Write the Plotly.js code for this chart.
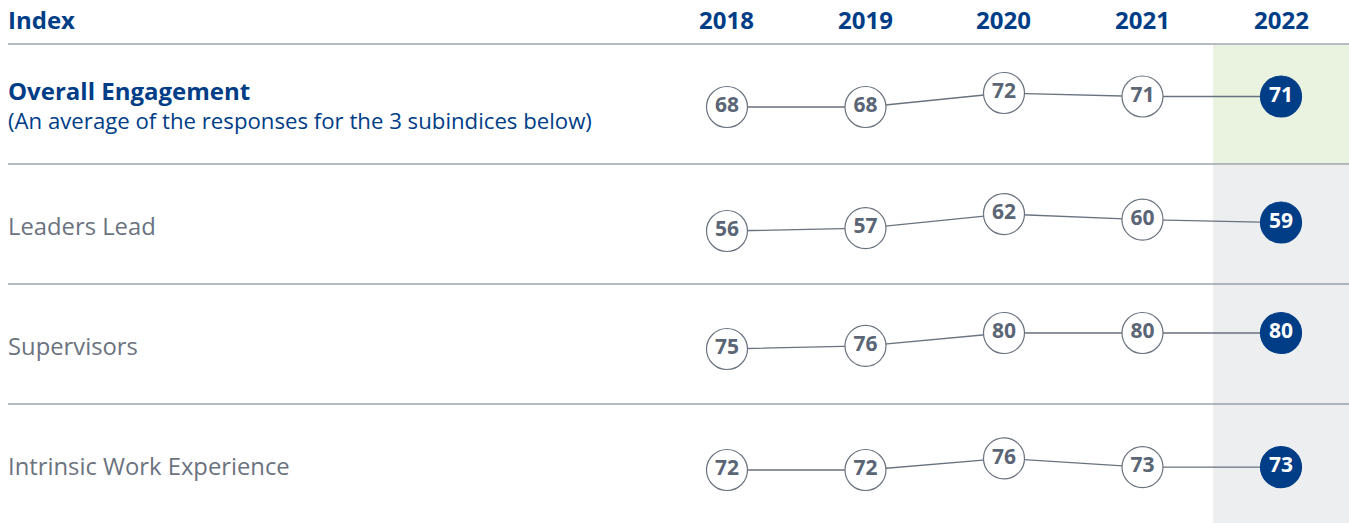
<!DOCTYPE html>
<html>
<head>
<meta charset="utf-8">
<script src="https://cdn.plot.ly/plotly-3.0.1.min.js"></script>
<style>
  html, body { margin: 0; padding: 0; background: #ffffff; }
  #chart { width: 1349px; height: 523px; }
</style>
</head>
<body>
<div id="chart"></div>
<script>
// ---- Data ----
var years = [2018, 2019, 2020, 2021, 2022];
var headerLabel = 'Index';
var overall = [68, 68, 72, 71, 71];
var leaders = [56, 57, 62, 60, 59];
var supervisors = [75, 76, 80, 80, 80];
var intrinsic = [72, 72, 76, 73, 73];
var rowNames = ['Overall Engagement', 'Leaders Lead', 'Supervisors', 'Intrinsic Work Experience'];
var overallNote = '(An average of the responses for the 3 subindices below)';

// ---- Styling ----
var W = 1349, H = 523;
var navy = '#003d87';
var lineGray = '#69727f';
var textGray = '#5a6575';
var labelGray = '#6b7380';
var font = '"Open Sans", "Noto Sans", sans-serif';

var series = [overall, leaders, supervisors, intrinsic];
// each row gets its own overlaid y axis; ranges chosen so each row sits inside its band
var yRanges = [[-50.86, 98.57], [-47.18, 137.63], [20.63, 184.06], [53.72, 234.07]];

var traces = series.map(function (vals, i) {
  var last = vals.length - 1;
  return {
    type: 'scatter',
    mode: 'lines+markers+text',
    x: years,
    y: vals,
    text: vals.map(String),
    textposition: 'middle center',
    textfont: {
      family: font, size: 21, weight: 700,
      color: vals.map(function (v, j) { return j === last ? '#ffffff' : textGray; })
    },
    line: { color: lineGray, width: 1.3 },
    marker: {
      size: 41,
      color: vals.map(function (v, j) { return j === last ? navy : '#ffffff'; }),
      line: { color: vals.map(function (v, j) { return j === last ? navy : lineGray; }), width: 1.2 }
    },
    cliponaxis: false,
    hoverinfo: 'skip',
    showlegend: false,
    xaxis: 'x',
    yaxis: i === 0 ? 'y' : 'y' + (i + 1)
  };
});

function py(px) { return 1 - px / H; }
function px2x(px) { return px / W; }

var shapes = [
  // 2022 column shading
  { type: 'rect', xref: 'paper', yref: 'paper', x0: px2x(1213), x1: 1, y0: py(164), y1: py(45),
    fillcolor: '#eaf3e0', line: { width: 0 }, layer: 'below' },
  { type: 'rect', xref: 'paper', yref: 'paper', x0: px2x(1213), x1: 1, y0: 0, y1: py(165),
    fillcolor: '#edeef0', line: { width: 0 }, layer: 'below' }
];
[44, 164, 284, 404].forEach(function (p) {
  shapes.push({ type: 'line', xref: 'paper', yref: 'paper', x0: px2x(8), x1: 1, y0: py(p), y1: py(p),
    line: { color: '#6f7888', width: 1 }, layer: 'below' });
});

var annotations = [];
var lx = px2x(6);
annotations.push({ xref: 'paper', yref: 'paper', x: lx, y: py(20), xanchor: 'left', yanchor: 'middle',
  text: '<b>' + headerLabel + '</b>', showarrow: false, font: { family: font, size: 24, color: navy } });
years.forEach(function (yr) {
  annotations.push({ xref: 'x', yref: 'paper', x: yr, y: py(20), xanchor: 'center', yanchor: 'middle',
    text: '<b>' + yr + '</b>', showarrow: false, font: { family: font, size: 24, color: navy } });
});
annotations.push({ xref: 'paper', yref: 'paper', x: lx, y: py(105), xanchor: 'left', yanchor: 'middle', align: 'left',
  text: '<span style="font-size:24px"><b>' + rowNames[0] + '</b></span><br>' + overallNote,
  showarrow: false, font: { family: font, size: 22.2, color: navy } });
[226, 346, 466].forEach(function (p, k) {
  annotations.push({ xref: 'paper', yref: 'paper', x: lx, y: py(p), xanchor: 'left', yanchor: 'middle',
    text: rowNames[k + 1], showarrow: false, font: { family: font, size: 23.8, color: labelGray } });
});

var hiddenAxis = { showgrid: false, zeroline: false, showticklabels: false, ticks: '', showline: false, fixedrange: true };

var layout = {
  width: W, height: H,
  margin: { l: 0, r: 0, t: 0, b: 0, pad: 0 },
  paper_bgcolor: '#ffffff',
  plot_bgcolor: 'rgba(0,0,0,0)',
  showlegend: false,
  xaxis: Object.assign({}, hiddenAxis, { range: [2012.751, 2022.491] }),
  yaxis: Object.assign({}, hiddenAxis, { range: yRanges[0], domain: [0, 1] }),
  yaxis2: Object.assign({}, hiddenAxis, { range: yRanges[1], overlaying: 'y' }),
  yaxis3: Object.assign({}, hiddenAxis, { range: yRanges[2], overlaying: 'y' }),
  yaxis4: Object.assign({}, hiddenAxis, { range: yRanges[3], overlaying: 'y' }),
  shapes: shapes,
  annotations: annotations
};

Plotly.newPlot('chart', traces, layout, { displayModeBar: false, staticPlot: true });
</script>
</body>
</html>
